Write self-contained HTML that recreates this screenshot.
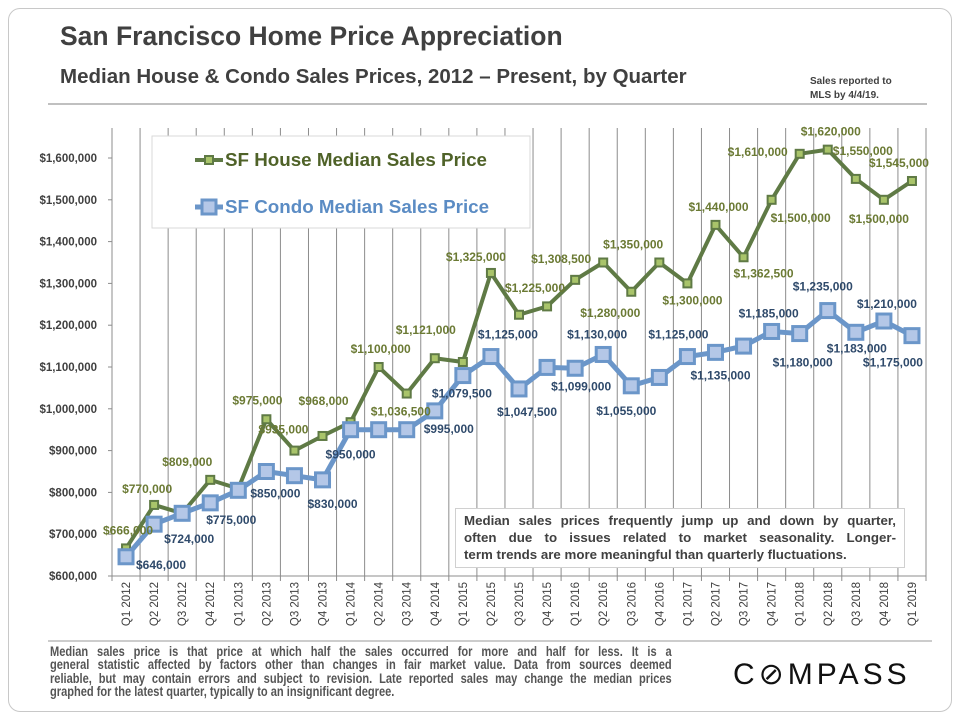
<!DOCTYPE html>
<html><head><meta charset="utf-8">
<style>
html,body{margin:0;padding:0;background:#fff;}
body{width:960px;height:720px;position:relative;overflow:hidden;font-family:"Liberation Sans",Arial,sans-serif;}
.frame{position:absolute;left:8px;top:8px;width:942px;height:702px;border:1px solid #c8c8c8;border-radius:12px;}
.title{position:absolute;left:60px;top:21px;font-size:26.5px;font-weight:bold;color:#404040;white-space:nowrap;}
.sub{position:absolute;left:60px;top:65px;font-size:20.5px;font-weight:bold;color:#404040;white-space:nowrap;}
.mls{position:absolute;left:810px;top:75px;font-size:10px;font-weight:bold;color:#404040;line-height:14px;}
.note{position:absolute;left:455px;top:508px;width:432px;height:52px;padding:3px 8px;border:1px solid #d0d0d0;background:#fff;font-size:13.3px;font-weight:bold;color:#404040;line-height:17px;}
.note div{text-align:justify;text-align-last:justify;white-space:nowrap;}
.note div.last{text-align-last:left;}
.foot{position:absolute;left:50px;top:646px;width:797px;transform:scaleX(0.78);transform-origin:0 0;font-size:14.2px;font-weight:bold;color:#555;line-height:13.3px;}
.foot div{text-align:justify;text-align-last:justify;white-space:nowrap;}
.foot div.last{text-align-last:left;}
.logo{position:absolute;left:733px;top:657px;font-size:30px;letter-spacing:4px;color:#111;}
</style></head>
<body>
<div class="frame"></div>
<div class="title">San Francisco Home Price Appreciation</div>
<div class="sub">Median House &amp; Condo Sales Prices, 2012 – Present, by Quarter</div>
<div class="mls">Sales reported to<br>MLS by 4/4/19.</div>
<svg id="chart" width="960" height="720" style="position:absolute;left:0;top:0"></svg>
<div class="note"><div>Median sales prices frequently jump up and down by quarter,</div><div>often due to issues related to market seasonality. Longer-</div><div class="last">term trends are more meaningful than quarterly fluctuations.</div></div>
<div class="foot"><div>Median sales price is that price at which half the sales occurred for more and half for less. It is a</div><div>general statistic affected by factors other than changes in fair market value. Data from sources deemed</div><div>reliable, but may contain errors and subject to revision. Late reported sales may change the median prices</div><div class="last">graphed for the latest quarter, typically to an insignificant degree.</div></div>
<div class="logo">C&#8856;MPASS</div>
<script>
const categories=["Q1 2012","Q2 2012","Q3 2012","Q4 2012","Q1 2013","Q2 2013","Q3 2013","Q4 2013","Q1 2014","Q2 2014","Q3 2014","Q4 2014","Q1 2015","Q2 2015","Q3 2015","Q4 2015","Q1 2016","Q2 2016","Q3 2016","Q4 2016","Q1 2017","Q2 2017","Q3 2017","Q4 2017","Q1 2018","Q2 2018","Q3 2018","Q4 2018","Q1 2019"];
const houseValues=[666000,770000,750000,830000,809000,975000,900000,935000,968000,1100000,1036500,1121000,1112000,1325000,1225000,1245000,1308500,1350000,1280000,1350000,1300000,1440000,1362500,1500000,1610000,1620000,1550000,1500000,1545000];
const condoValues=[646000,724000,750000,775000,805000,850000,840000,830000,950000,950000,950000,995000,1079500,1125000,1047500,1099000,1097000,1130000,1055000,1075000,1125000,1135000,1150000,1185000,1180000,1235000,1183000,1210000,1175000];
const yTicks=[600000,700000,800000,900000,1000000,1100000,1200000,1300000,1400000,1500000,1600000];
const houseLabels=[[0,"$666,000",2,-18],[1,"$770,000",-7,-16],[3,"$809,000",-23,-18],[5,"$975,000",-9,-19],[6,"$935,000",-11,-21],[8,"$968,000",-27,-21],[9,"$1,100,000",2,-18],[10,"$1,036,500",-6,18],[11,"$1,121,000",-9,-28],[13,"$1,325,000",-15,-16],[14,"$1,225,000",16,-27],[16,"$1,308,500",-14,-21],[17,"$1,350,000",30,-18],[18,"$1,280,000",-21,21],[20,"$1,300,000",5,17],[21,"$1,440,000",3,-18],[22,"$1,362,500",20,16],[24,"$1,610,000",-42,-2],[23,"$1,500,000",29,18],[25,"$1,620,000",3,-18],[26,"$1,550,000",7,-28],[28,"$1,545,000",-13,-18],[27,"$1,500,000",-5,19]];
const condoLabels=[[0,"$646,000",35,8],[1,"$724,000",35,15],[3,"$775,000",21,17],[5,"$850,000",9,22],[7,"$830,000",10,24],[8,"$950,000",0,25],[11,"$995,000",14,18],[12,"$1,079,500",-1,18],[13,"$1,125,000",17,-22],[14,"$1,047,500",8,23],[16,"$1,099,000",6,18],[17,"$1,130,000",-6,-20],[18,"$1,055,000",-5,25],[20,"$1,125,000",-9,-22],[21,"$1,135,000",5,23],[23,"$1,185,000",-3,-18],[25,"$1,235,000",-5,-24],[24,"$1,180,000",3,29],[27,"$1,210,000",3,-17],[26,"$1,183,000",1,16],[28,"$1,175,000",-19,27]];

const NS="http://www.w3.org/2000/svg";
const svg=document.getElementById('chart');
const L=112,R=926,B=576,T=128,step=(R-L)/categories.length;
const X=i=>L+step*(i+0.5);
const Y=v=>B-(v-600000)/1000000*(B-158);
function mk(tag,attrs,parent){const e=document.createElementNS(NS,tag);for(const k in attrs)e.setAttribute(k,attrs[k]);(parent||svg).appendChild(e);return e;}
const fmt=v=>"$"+v.toLocaleString("en-US");

let hr=mk('line',{x1:48,y1:104,x2:927,y2:104,stroke:'#808080','stroke-width':1});


let fr=mk('line',{x1:48,y1:641,x2:932,y2:641,stroke:'#999','stroke-width':1});



for(let i=0;i<=categories.length;i++){
  const x=L+step*i;
  const g=mk('line',{x1:x,y1:T,x2:x,y2:B+5,stroke:'#8c8c8c','stroke-width':1});
  
  
}
const xa=mk('line',{x1:L,y1:B,x2:R,y2:B,stroke:'#8c8c8c','stroke-width':1});



yTicks.forEach(v=>{
  const y=Y(v);
  const tk=mk('line',{x1:L-4,y1:y,x2:L,y2:y,stroke:'#8c8c8c'});
  
  
  const t=mk('text',{x:97,y:y+4,'text-anchor':'end','font-size':'11.5','font-weight':'bold',fill:'#404040'});
  t.textContent=fmt(v);
  
  
});
categories.forEach((c,i)=>{
  const x=X(i);
  const t=mk('text',{x:0,y:0,'text-anchor':'end','font-size':'11.5',fill:'#404040',transform:`translate(${x+4},${B+6}) rotate(-90)`});
  t.textContent=c;
  
  
});

const lg=mk('g',{});


mk('rect',{x:152,y:136,width:378,height:92,fill:'#fff',stroke:'#d9d9d9'},lg);
mk('line',{x1:195,y1:160,x2:223,y2:160,stroke:'#5f7a45','stroke-width':4},lg);
mk('rect',{x:205,y:156,width:8,height:8,fill:'#a9c46a',stroke:'#5f7a45','stroke-width':2},lg);
let lt=mk('text',{x:225,y:166,'font-size':'18.8','font-weight':'bold',fill:'#4f6228'},lg);lt.textContent="SF House Median Sales Price";


mk('line',{x1:195,y1:207,x2:223,y2:207,stroke:'#6b96c9','stroke-width':5},lg);
mk('rect',{x:202,y:200,width:14,height:14,fill:'#b4c7e7',stroke:'#6b96c9','stroke-width':3},lg);
let lt2=mk('text',{x:225,y:213,'font-size':'18.8','font-weight':'bold',fill:'#5b8cc4'},lg);lt2.textContent="SF Condo Median Sales Price";



function series(vals,color,w,fill,ms,sw,name){
  const pts=vals.map((v,i)=>X(i)+","+Y(v)).join(" ");
  const pl=mk('polyline',{points:pts,fill:'none',stroke:color,'stroke-width':w,'stroke-linejoin':'round'});
  
  
  vals.forEach((v,i)=>{
    const r=mk('rect',{x:X(i)-ms/2,y:Y(v)-ms/2,width:ms,height:ms,fill:fill,stroke:color,'stroke-width':sw});
    
    
  });
}
series(houseValues,'#5f7a45',4,'#a9c46a',8,2,'house');
series(condoValues,'#6b96c9',5,'#b4c7e7',14,3,'condo');

function labels(list,vals,color,name){
  list.forEach(([i,txt,dx,dy])=>{
    const t=mk('text',{x:X(i)+dx,y:Y(vals[i])+dy+4,'text-anchor':'middle','font-size':'12','font-weight':'bold',fill:color});
    t.textContent=txt;
    
    
  });
}
labels(houseLabels,houseValues,'#6b7a34','house');
labels(condoLabels,condoValues,'#2f4a6b','condo');
</script>
</body></html>
